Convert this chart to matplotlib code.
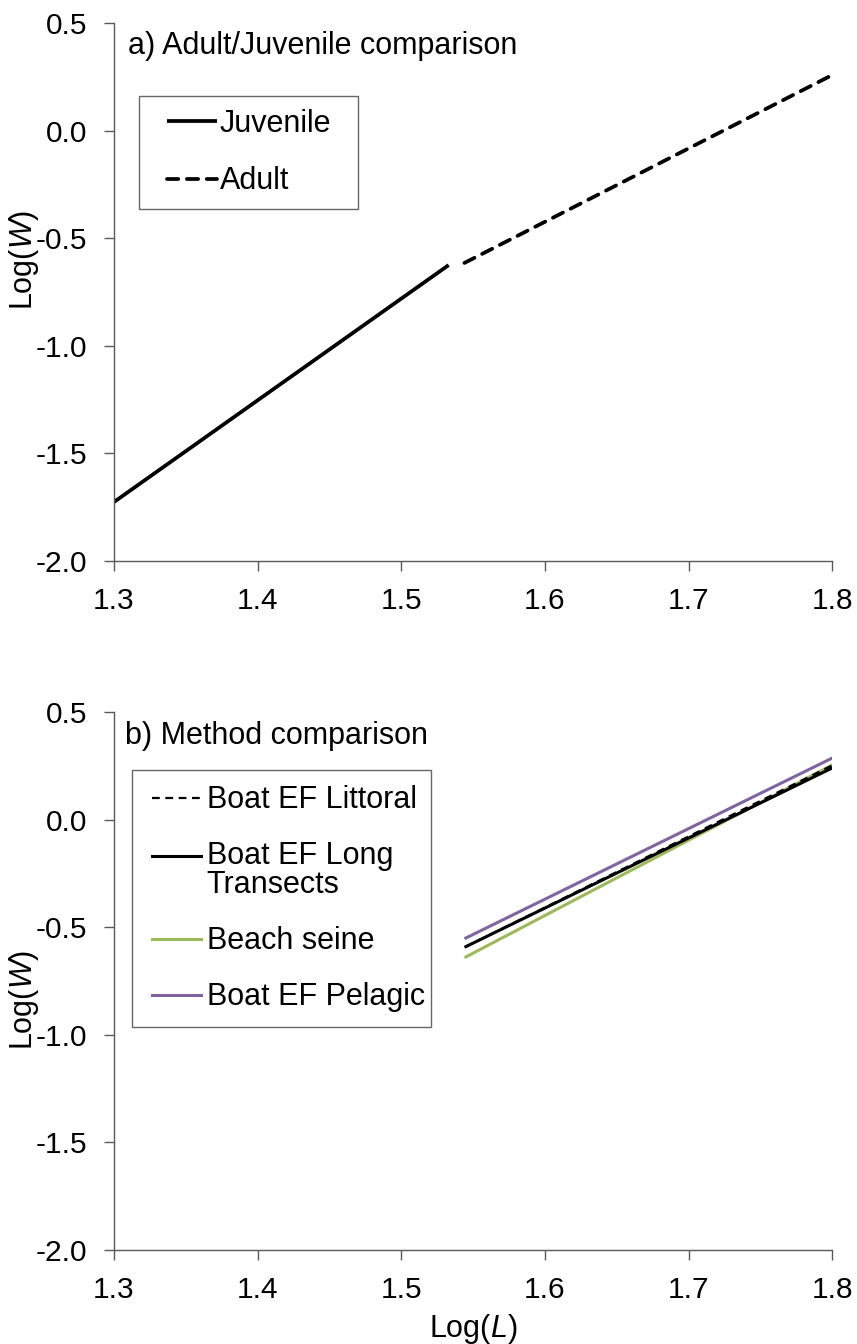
import matplotlib
matplotlib.use("Agg")
import matplotlib.pyplot as plt
from matplotlib.ticker import FixedLocator, FormatStrFormatter
from matplotlib.legend_handler import HandlerLine2D
from matplotlib.transforms import Affine2D

plt.rcParams['font.family'] = ['Liberation Sans', 'DejaVu Sans']
plt.rcParams['axes.unicode_minus'] = False
plt.rcParams['mathtext.fontset'] = 'custom'
plt.rcParams['mathtext.it'] = 'Liberation Sans:italic'
plt.rcParams['mathtext.rm'] = 'Liberation Sans'

# Panel a: fitted log-length / log-weight lines by life stage
juv_logL = [1.30, 1.533]
juv_logW = [-1.726, -0.625]
adult_logL = [1.544, 1.80]
adult_logW = [-0.615, 0.258]

# Panel b: fitted lines by sampling method
method_logL = [1.545, 1.80]
littoral_logW = [-0.590, 0.252]
long_transect_logW = [-0.590, 0.240]
beach_seine_logW = [-0.638, 0.254]
pelagic_logW = [-0.550, 0.286]

x_ticks = [1.3, 1.4, 1.5, 1.6, 1.7, 1.8]
y_ticks = [-2.0, -1.5, -1.0, -0.5, 0.0, 0.5]

GREEN = '#9BBB59'
PURPLE = '#8064A2'
AXIS_GREY = '#595959'
TICK_FS = 21.5
TEXT_FS = 22


class IndentedLine(HandlerLine2D):
    """Legend line drawn after a left indent and optionally raised (points)."""

    def __init__(self, indent=0.0, raise_by=0.0, **kw):
        super().__init__(**kw)
        self.indent = indent
        self.raise_by = raise_by

    def create_artists(self, legend, orig_handle, xdescent, ydescent,
                       width, height, fontsize, trans):
        shifted = Affine2D().translate(self.indent, self.raise_by) + trans
        return super().create_artists(legend, orig_handle, xdescent, ydescent,
                                      width - self.indent, height, fontsize,
                                      shifted)


fig = plt.figure(figsize=(8.57, 13.44), dpi=100)
ax_a = fig.add_axes([0.133, 0.5826, 0.838, 0.4003])
ax_b = fig.add_axes([0.133, 0.0699, 0.838, 0.4003])


def style_axes(ax, ylabel_y):
    ax.set_xlim(1.3, 1.8)
    ax.set_ylim(-2.0, 0.5)
    ax.xaxis.set_major_locator(FixedLocator(x_ticks))
    ax.yaxis.set_major_locator(FixedLocator(y_ticks))
    ax.xaxis.set_major_formatter(FormatStrFormatter('%.1f'))
    ax.yaxis.set_major_formatter(FormatStrFormatter('%.1f'))
    for side in ('top', 'right'):
        ax.spines[side].set_visible(False)
    for side in ('left', 'bottom'):
        ax.spines[side].set_color(AXIS_GREY)
        ax.spines[side].set_linewidth(1.0)
    ax.tick_params(axis='both', direction='out', length=7, width=1.0,
                   color=AXIS_GREY, labelsize=TICK_FS)
    ax.tick_params(axis='y', pad=12)
    ax.tick_params(axis='x', pad=12)
    ax.set_ylabel('Log($\\mathit{W}$)', fontsize=TEXT_FS)
    ax.yaxis.set_label_coords(-0.102, ylabel_y)


# ---- Panel a ----
style_axes(ax_a, 0.56)
ax_a.plot(juv_logL, juv_logW, color='black', lw=2.7, solid_capstyle='butt',
          label='Juvenile')
ax_a.plot(adult_logL, adult_logW, color='black', lw=2.7, ls=(0, (3.0, 2.3)),
          dash_capstyle='round', label='Adult')
ax_a.text(0.019, 0.958, 'a) Adult/Juvenile comparison', transform=ax_a.transAxes,
          fontsize=TEXT_FS, va='center', ha='left')
handler_a = IndentedLine(indent=11.0)
leg_a = ax_a.legend(loc='upper left', bbox_to_anchor=(0.035, 0.0, 0.305, 0.864),
                    mode='expand',
                    fontsize=TEXT_FS, frameon=True, fancybox=False,
                    edgecolor='#404040', handlelength=(36 + 11.0) / TEXT_FS,
                    handletextpad=0.08, labelspacing=0.9, borderpad=0.42,
                    borderaxespad=0,
                    handler_map={l: handler_a for l in ax_a.get_lines()})
leg_a.get_frame().set_linewidth(1.0)

# ---- Panel b ----
style_axes(ax_b, 0.465)
ax_b.plot(method_logL, beach_seine_logW, color=GREEN, lw=2.2,
          label='Beach seine')
ax_b.plot(method_logL, pelagic_logW, color=PURPLE, lw=2.2,
          label='Boat EF Pelagic')
ax_b.plot(method_logL, long_transect_logW, color='black', lw=2.2,
          label='Boat EF Long\nTransects')
ax_b.plot(method_logL, littoral_logW, color='black', lw=1.6,
          ls=(0, (3.5, 2.5)), label='Boat EF Littoral')
ax_b.text(0.015, 0.955, 'b) Method comparison', transform=ax_b.transAxes,
          fontsize=TEXT_FS, va='center', ha='left')
ax_b.set_xlabel('Log($\\mathit{L}$)', fontsize=TEXT_FS)
ax_b.xaxis.set_label_coords(0.5, -0.115)

handles, labels = ax_b.get_legend_handles_labels()
order = ['Boat EF Littoral', 'Boat EF Long\nTransects', 'Beach seine',
         'Boat EF Pelagic']
hmap = dict(zip(labels, handles))
handler_b = IndentedLine(indent=3.5)
handler_b_two_lines = IndentedLine(indent=3.5, raise_by=0.52 * TEXT_FS)
hm_b = {h: handler_b for h in handles}
hm_b[hmap['Boat EF Long\nTransects']] = handler_b_two_lines
leg_b = ax_b.legend([hmap[k] for k in order], order, loc='upper left',
                    bbox_to_anchor=(0.025, 0.0, 0.416, 0.892), mode='expand',
                    fontsize=TEXT_FS,
                    frameon=True, fancybox=False, edgecolor='#404040',
                    handlelength=(35 + 3.5) / TEXT_FS, handletextpad=0.2,
                    labelspacing=0.85, borderpad=0.5, borderaxespad=0,
                    handler_map=hm_b)
for t in leg_b.get_texts():
    t.set_linespacing(0.95)
leg_b.get_frame().set_linewidth(1.0)

fig.savefig('out.png', dpi=100)
